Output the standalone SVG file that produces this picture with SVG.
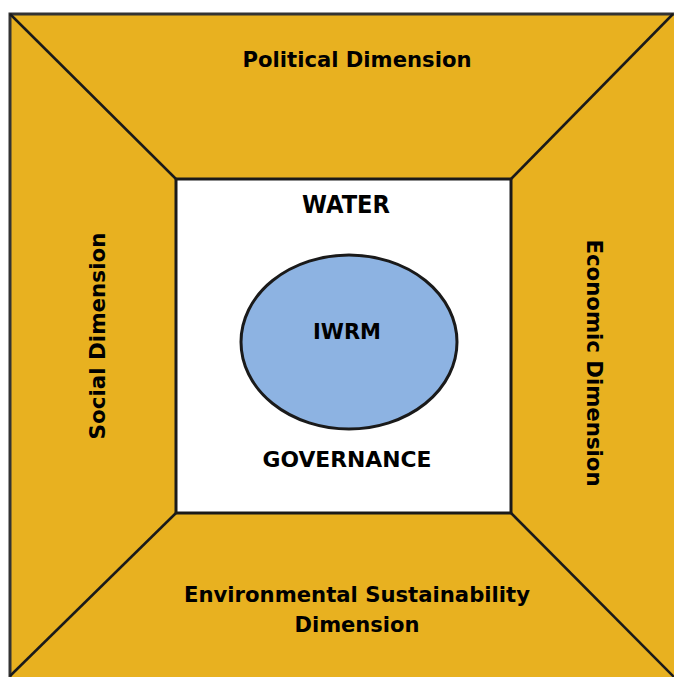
<svg xmlns="http://www.w3.org/2000/svg" width="674" height="677" viewBox="0 0 674 677">
<style>
.lbl{font-family:"DejaVu Sans","Liberation Sans",Arial,sans-serif;font-weight:bold;fill:#000;text-anchor:middle}
.line{stroke:#1a1a1a;stroke-width:2.5;fill:none}
</style>
<rect width="674" height="677" fill="#fff"/>
<g id="frame">
<rect x="10" y="14" width="668" height="668" fill="#E8B120" stroke="#333" stroke-width="3"/>
</g>
<g id="connectors">
<line class="line" x1="10" y1="14" x2="176" y2="179"/>
<line class="line" x1="673" y1="14" x2="511" y2="179"/>
<line class="line" x1="10" y1="676" x2="176" y2="513"/>
<line class="line" x1="674" y1="677" x2="511" y2="513"/>
</g>
<g id="inner">
<rect x="176" y="179" width="335" height="334" fill="#fff" stroke="#1a1a1a" stroke-width="3"/>
</g>
<g id="iwrm">
<ellipse cx="349" cy="342" rx="108" ry="87" fill="#8DB3E2" stroke="#1a1a1a" stroke-width="3"/>
<text class="lbl" x="347" y="339" font-size="22" textLength="68" lengthAdjust="spacingAndGlyphs">IWRM</text>
</g>
<g id="water"><text class="lbl" x="346" y="213" font-size="24" textLength="88" lengthAdjust="spacingAndGlyphs">WATER</text></g>
<g id="governance"><text class="lbl" x="347" y="467" font-size="21" textLength="169" lengthAdjust="spacingAndGlyphs">GOVERNANCE</text></g>
<g id="political"><text class="lbl" x="357" y="67" font-size="21" textLength="229" lengthAdjust="spacingAndGlyphs">Political Dimension</text></g>
<g id="environmental">
<text class="lbl" x="357" y="602" font-size="21" textLength="346" lengthAdjust="spacingAndGlyphs">Environmental Sustainability</text>
<text class="lbl" x="357" y="632" font-size="21" textLength="125" lengthAdjust="spacingAndGlyphs">Dimension</text>
</g>
<g id="social"><text class="lbl" transform="translate(105,336) rotate(-90)" font-size="21" textLength="207" lengthAdjust="spacingAndGlyphs">Social Dimension</text></g>
<g id="economic"><text class="lbl" transform="translate(587,363) rotate(90)" font-size="21" textLength="247" lengthAdjust="spacingAndGlyphs">Economic Dimension</text></g>
</svg>
